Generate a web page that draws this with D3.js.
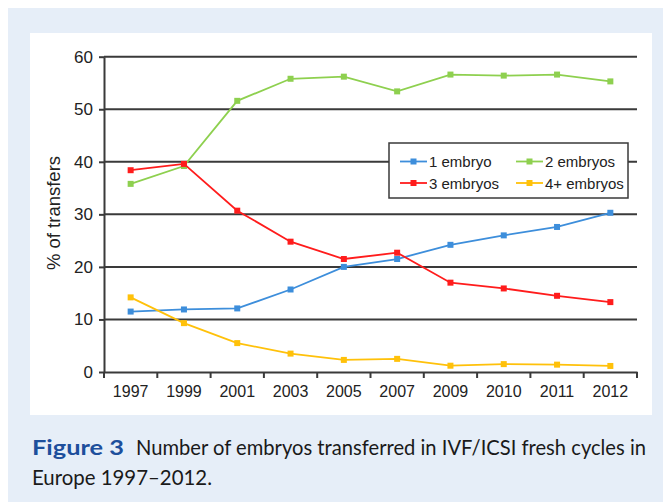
<!DOCTYPE html>
<html><head><meta charset="utf-8">
<script src="https://cdn.jsdelivr.net/npm/d3@7"></script>
<style>html,body{margin:0;padding:0;background:#fff}svg{display:block}</style>
</head><body>
<svg id="c" width="664" height="503"></svg>
<script>
const years = ["1997","1999","2001","2003","2005","2007","2009","2010","2011","2012"];
const one = [11.5, 11.9, 12.1, 15.7, 20.0, 21.5, 24.2, 26.0, 27.6, 30.3];
const two = [35.8, 39.2, 51.6, 55.8, 56.2, 53.4, 56.6, 56.4, 56.6, 55.3];
const three = [38.4, 39.6, 30.7, 24.8, 21.5, 22.7, 17.0, 15.9, 14.5, 13.3];
const fourPlus = [14.2, 9.3, 5.5, 3.5, 2.3, 2.5, 1.2, 1.5, 1.4, 1.15];
const yTicks = [0, 10, 20, 30, 40, 50, 60];
const seriesNames = ["1 embryo", "2 embryos", "3 embryos", "4+ embryos"];
const seriesColors = ["#3d8edb", "#8ed04f", "#ff1c1c", "#ffc10a"];

const series = [one, two, three, fourPlus].map((v, i) => ({name: seriesNames[i], color: seriesColors[i], values: v}));

const svg = d3.select("#c");
svg.append("rect").attr("x", 8).attr("y", 8).attr("width", 655).attr("height", 494).attr("fill", "#e6eef8");
svg.append("rect").attr("x", 30).attr("y", 33).attr("width", 622).attr("height", 382).attr("fill", "#ffffff");

const x = d3.scaleBand().domain(years).range([104, 637]);
const y = d3.scaleLinear().domain([0, 60]).range([372, 56.7]);

const g = svg.append("g");
g.selectAll("line.grid").data(yTicks.filter(d => d > 0)).join("line")
  .attr("x1", 104).attr("x2", 637).attr("y1", d => y(d)).attr("y2", d => y(d))
  .attr("stroke", "#3a3a3a").attr("stroke-width", 2);

const yAxis = g.append("g").attr("transform", "translate(104,0)")
  .call(d3.axisLeft(y).tickValues(yTicks).tickSize(5).tickPadding(6).tickSizeOuter(0));
yAxis.select(".domain").attr("stroke", "#3a3a3a").attr("stroke-width", 2);
yAxis.selectAll(".tick line").attr("stroke", "#3a3a3a").attr("stroke-width", 2);
yAxis.selectAll("text").attr("font-family", "Liberation Sans, Arial, sans-serif").attr("font-size", 17).attr("fill", "#222");

const xAxis = g.append("g").attr("transform", "translate(0,372)")
  .call(d3.axisBottom(x).tickSize(0).tickPadding(14));
xAxis.select(".domain").attr("stroke", "#3a3a3a").attr("stroke-width", 2);
xAxis.selectAll("text").attr("font-family", "Liberation Sans, Arial, sans-serif").attr("font-size", 16).attr("fill", "#222");
const edges = years.map(d => x(d)).concat([x.range()[1]]);
g.selectAll("line.xt").data(edges).join("line")
  .attr("x1", d => d).attr("x2", d => d).attr("y1", 372).attr("y2", 378)
  .attr("stroke", "#3a3a3a").attr("stroke-width", 2);

svg.append("text").attr("transform", "translate(60,213) rotate(-90)")
  .attr("text-anchor", "middle").attr("font-family", "Liberation Sans, Arial, sans-serif")
  .attr("font-size", 18.5).attr("fill", "#222").text("% of transfers");

const line = d3.line().x((d, i) => x(years[i]) + x.bandwidth() / 2).y(d => y(d));
const sg = g.selectAll("g.s").data(series).join("g");
sg.append("path").attr("d", d => line(d.values)).attr("fill", "none")
  .attr("stroke", d => d.color).attr("stroke-width", 1.8);
sg.each(function(s) {
  d3.select(this).selectAll("rect").data(s.values).join("rect")
    .attr("x", (d, i) => x(years[i]) + x.bandwidth() / 2 - 3)
    .attr("y", d => y(d) - 3).attr("width", 6).attr("height", 6).attr("fill", s.color);
});

const lg = svg.append("g");
lg.append("rect").attr("x", 389).attr("y", 143).attr("width", 239).attr("height", 55)
  .attr("fill", "#fff").attr("stroke", "#3a3a3a").attr("stroke-width", 1.5);
series.forEach((s, i) => {
  const lx = 400 + (i % 2) * 116;
  const ly = 161.5 + Math.floor(i / 2) * 21.5;
  lg.append("line").attr("x1", lx).attr("x2", lx + 27).attr("y1", ly).attr("y2", ly)
    .attr("stroke", s.color).attr("stroke-width", 1.8);
  lg.append("rect").attr("x", lx + 10.5).attr("y", ly - 3).attr("width", 6).attr("height", 6).attr("fill", s.color);
  lg.append("text").attr("x", lx + 29).attr("y", ly + 5.5).attr("font-family", "Liberation Sans, Arial, sans-serif")
    .attr("font-size", 15).attr("fill", "#222").text(s.name);
});

const capFont = "Lato, 'Open Sans', sans-serif";
svg.append("text").attr("x", 32).attr("y", 455).attr("font-family", capFont)
  .attr("font-size", 20.5).attr("font-weight", "bold").attr("fill", "#1d4f9c")
  .attr("textLength", 92).attr("lengthAdjust", "spacingAndGlyphs").text("Figure 3");
svg.append("text").attr("x", 136).attr("y", 455).attr("font-family", capFont)
  .attr("font-size", 20.5).attr("fill", "#1a1a1a")
  .attr("textLength", 510).attr("lengthAdjust", "spacingAndGlyphs")
  .text("Number of embryos transferred in IVF/ICSI fresh cycles in");
svg.append("text").attr("x", 32).attr("y", 485).attr("font-family", capFont)
  .attr("font-size", 20.5).attr("fill", "#1a1a1a")
  .attr("textLength", 180).attr("lengthAdjust", "spacingAndGlyphs").text("Europe 1997\u20132012.");
</script>
</body></html>
